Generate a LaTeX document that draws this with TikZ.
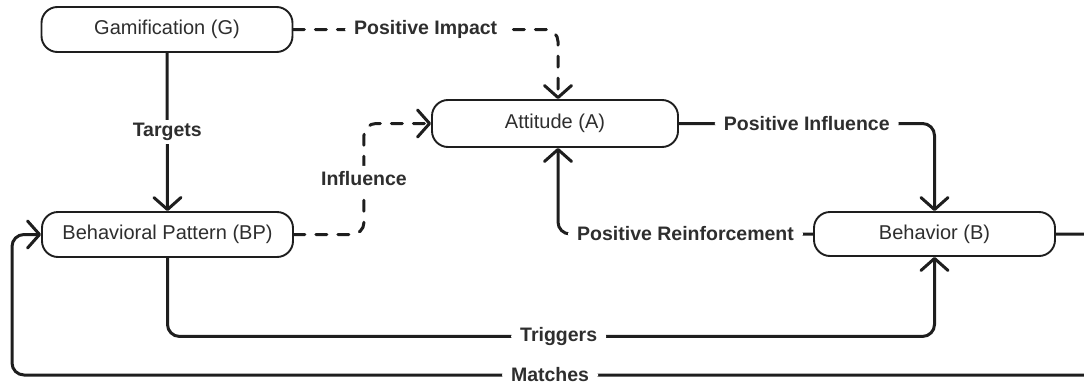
\documentclass[tikz,border=0pt]{standalone}
\usepackage{fontspec}
\setmainfont{Liberation Sans}
\usetikzlibrary{arrows.meta,calc}
\definecolor{ink}{HTML}{1E1E1E}
\definecolor{txt}{HTML}{2E2E2E}

\begin{document}
\begin{tikzpicture}[x=1pt,y=-1pt,
  box/.style={draw=ink,line width=1.9pt,rounded corners=16pt,minimum height=45pt,
    fill=white,text=txt,font=\fontsize{20}{23}\selectfont,inner sep=0pt},
  link/.style={draw=ink,line width=3pt,rounded corners=12pt,line cap=round,line join=round,
    -{Straight Barb[length=12pt,width=27pt,line width=3pt,round]}},
  dashlink/.style={link,dash pattern=on 11pt off 11pt},
  lbl/.style={fill=white,text=txt,font=\bfseries\fontsize{19.5}{22}\selectfont,
    inner xsep=9pt,inner ysep=3pt}]

\useasboundingbox (0,0) rectangle (1084,383);
\clip (0,0) rectangle (1084,383);

% nodes
\node[box,minimum width=251pt] (G)  at (167,29.5)  {Gamification (G)};
\node[box,minimum width=251pt] (BP) at (167.5,234.5) {Behavioral Pattern (BP)};
\node[box,minimum width=246pt,minimum height=47pt] (A) at (555,123.5) {Attitude (A)};
\node[box,minimum width=241pt,minimum height=44pt] (B) at (934.5,234) {Behavior (B)};

% waypoints of the outer loop
\coordinate (mR) at (1110,375);
\coordinate (mL) at (12,375);

% connectors
\draw[link] (G.south) -- node[lbl,inner xsep=4pt]{Targets} (BP.north);
\draw[dashlink] (G.east) -| node[lbl,pos=0.25]{Positive Impact} ([xshift=3pt]A.north);
\draw[dashlink] (BP.east) -- ++(70,0) |- node[lbl,pos=0.25,inner ysep=6pt]{Influence} (A.west);
\draw[link] (A.east) -| node[lbl,pos=0.25]{Positive Influence} (B.north);
\draw[link] (B.west) -| node[lbl,pos=0.25]{Positive Reinforcement} ([xshift=3pt]A.south);
\draw[link] (BP.south) -- ++(0,78.5) -| node[lbl,pos=0.255]{Triggers} (B.south);
\draw[link] (B.east) -- (B.east -| mR) -- (mR) -- node[lbl,pos=0.51]{Matches} (mL) |- (BP.west);

\end{tikzpicture}
\end{document}
